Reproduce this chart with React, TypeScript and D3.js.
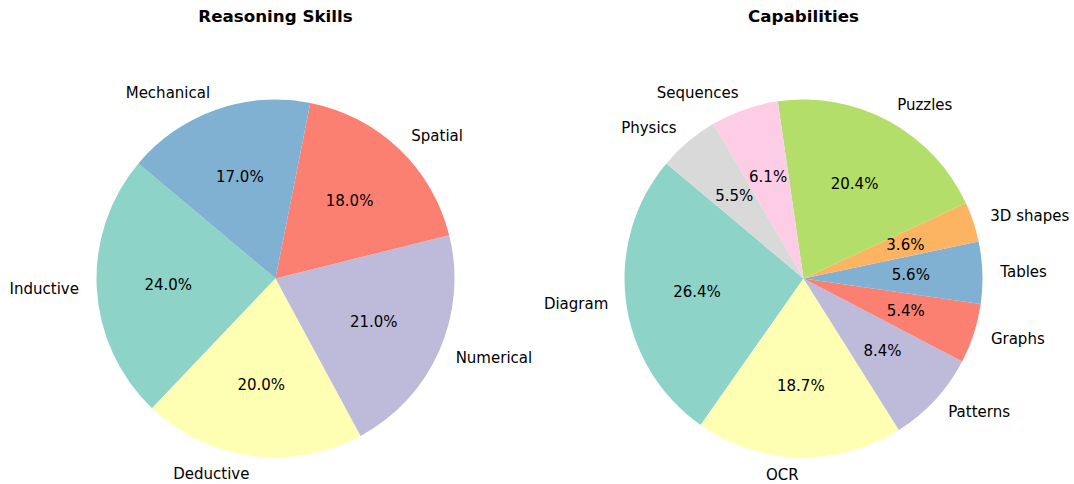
import React from "react";
import * as d3 from "d3";

const reasoningLabels = ["Inductive", "Deductive", "Numerical", "Spatial", "Mechanical"];
const reasoningValues = [24.0, 20.0, 21.0, 18.0, 17.0];

const capabilityLabels = ["Diagram", "OCR", "Patterns", "Graphs", "Tables", "3D shapes", "Puzzles", "Sequences", "Physics"];
const capabilityValues = [26.4, 18.7, 8.4, 5.4, 5.6, 3.6, 20.4, 6.1, 5.5];

const set3 = ["#8dd3c7", "#ffffb3", "#bebada", "#fb8072", "#80b1d3", "#fdb462", "#b3de69", "#fccde5", "#d9d9d9"];

const W = 1074;
const H = 484;
const R = 179;
const START = 140; // matplotlib startangle, counterclockwise
const FONT = "'DejaVu Sans', sans-serif";

type PieProps = { cx: number; cy: number; title: string; labels: string[]; values: number[] };

const Pie = ({ cx, cy, title, labels, values }: PieProps) => {
  const total = d3.sum(values);
  // matplotlib angles (deg, CCW from +x)
  let theta = START;
  const slices = values.map((v, i) => {
    const t1 = theta;
    const t2 = theta + (v / total) * 360;
    theta = t2;
    return { i, v, t1, t2 };
  });
  // d3.arc uses clockwise radians from 12 o'clock; convert: a = 90 - deg
  const arc = d3.arc<any>().innerRadius(0).outerRadius(R);
  const fmt = d3.format(".1f");

  return (
    <g>
      <text x={cx} y={17} textAnchor="middle" dominantBaseline="middle" fontFamily={FONT} fontWeight="bold" fontSize={16.7}>
        {title}
      </text>
      <g transform={`translate(${cx},${cy})`}>
        {slices.map((s) => {
          const d = arc({
            startAngle: ((90 - s.t2) * Math.PI) / 180,
            endAngle: ((90 - s.t1) * Math.PI) / 180,
          });
          return <path key={s.i} d={d || ""} fill={set3[s.i % set3.length]} />;
        })}
        {slices.map((s) => {
          const mid = (((s.t1 + s.t2) / 2) * Math.PI) / 180;
          const lx = 1.1 * R * Math.cos(mid);
          const ly = -1.1 * R * Math.sin(mid);
          const px = 0.6 * R * Math.cos(mid);
          const py = -0.6 * R * Math.sin(mid);
          return (
            <g key={"t" + s.i} fontFamily={FONT} fontSize={15}>
              <text x={lx} y={ly} textAnchor={lx > 0 ? "start" : "end"} dominantBaseline="central">
                {labels[s.i]}
              </text>
              <text x={px} y={py} textAnchor="middle" dominantBaseline="central">
                {fmt(s.v) + "%"}
              </text>
            </g>
          );
        })}
      </g>
    </g>
  );
};

export default function App() {
  return (
    <svg width={W} height={H} style={{ position: "absolute", left: 0, top: 0 }}>
      <rect width={W} height={H} fill="white" />
      <Pie cx={275.5} cy={278.5} title="Reasoning Skills" labels={reasoningLabels} values={reasoningValues} />
      <Pie cx={803.5} cy={278.5} title="Capabilities" labels={capabilityLabels} values={capabilityValues} />
    </svg>
  );
}
